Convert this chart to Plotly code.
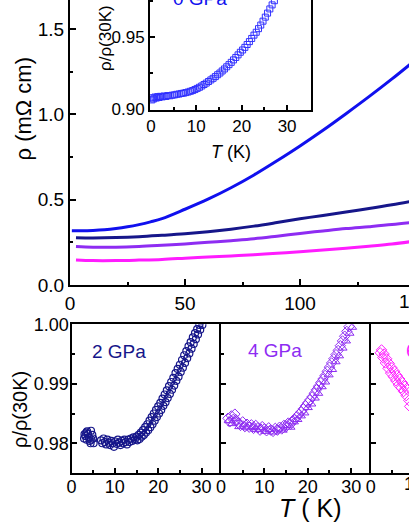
import plotly.graph_objects as go

W, H = 409, 529
FONT = "Liberation Sans, Arial, sans-serif"

# ---------------- main panel: rho(T) ----------------
T_0GPa = [0.8, 5, 10, 15, 20, 25, 30, 35, 40, 50, 60, 70, 80, 90, 100, 110, 120, 130, 140, 148]
rho_0GPa = [0.318, 0.318, 0.320, 0.324, 0.331, 0.341, 0.354, 0.370, 0.389, 0.444, 0.503, 0.570,
            0.645, 0.728, 0.815, 0.907, 1.004, 1.104, 1.208, 1.295]
T_hi = [2.6, 10, 20, 30, 40, 50, 60, 70, 80, 90, 100, 110, 120, 130, 140, 148]
rho_2GPa = [0.277, 0.276, 0.278, 0.283, 0.291, 0.300, 0.312, 0.327, 0.345, 0.366, 0.388, 0.408,
            0.428, 0.448, 0.470, 0.490]
rho_4GPa = [0.226, 0.222, 0.222, 0.226, 0.233, 0.241, 0.250, 0.260, 0.271, 0.286, 0.302, 0.317,
            0.331, 0.342, 0.354, 0.366]
rho_6GPa = [0.147, 0.143, 0.143, 0.146, 0.150, 0.157, 0.164, 0.170, 0.178, 0.186, 0.195, 0.205,
            0.215, 0.227, 0.240, 0.254]

# ---------------- inset: 0 GPa normalised ----------------
T_in = [0.2, 0.4, 0.6, 0.9, 1.2, 1.5, 1.8, 2.1, 2.5, 2.9, 3.3, 3.7, 4.2, 4.7, 5.2, 5.7, 6.2, 6.7,
        7.2, 7.7, 8.2, 8.7, 9.2, 9.7, 10.2, 10.7, 11.2, 11.7, 12.2, 12.7, 13.2, 13.7, 14.2, 14.7,
        15.2, 15.7, 16.2, 16.7, 17.2, 17.7, 18.2, 18.7, 19.2, 19.7, 20.2, 20.7, 21.2, 21.7, 22.2,
        22.7, 23.2, 23.7, 24.2, 24.7, 25.2, 25.7, 26.2, 26.7, 27.2, 27.7]
r_in = [0.9065, 0.9080, 0.9072, 0.9085, 0.9078, 0.9088, 0.9082, 0.9090, 0.9086, 0.9092, 0.9089,
        0.9095, 0.9094, 0.9098, 0.9100, 0.9104, 0.9106, 0.9110, 0.9112, 0.9116, 0.9120, 0.9125,
        0.9130, 0.9137, 0.9145, 0.9153, 0.9162, 0.9172, 0.9182, 0.9193, 0.9204, 0.9215, 0.9227,
        0.9240, 0.9252, 0.9266, 0.9280, 0.9295, 0.9310, 0.9326, 0.9343, 0.9360, 0.9378, 0.9396,
        0.9412, 0.9430, 0.9450, 0.9470, 0.9492, 0.9515, 0.9535, 0.9560, 0.9585, 0.9612, 0.9640,
        0.9668, 0.9697, 0.9725, 0.9754, 0.9784]

# ---------------- 2 GPa panel (circles) ----------------
T_2a = [2.9, 3.0, 3.2, 3.4, 3.5, 3.6, 3.8, 4.0, 4.2, 4.4, 4.5, 4.6, 4.8, 5.0, 5.1,
        6.8, 7.1, 7.4, 7.7, 8.0, 8.3, 8.6, 8.9, 9.2, 9.5, 9.8, 10.1, 10.4, 10.7, 11.0, 11.3,
        11.6, 11.9, 12.2, 12.5, 12.8, 13.1, 13.4, 13.7, 14.0, 14.3, 14.6,
        15.0, 15.5, 16.0, 16.5, 17.0, 17.5, 18.0, 18.5, 19.0, 19.5, 20.0, 20.5, 21.0, 21.5,
        22.0, 22.5, 23.0, 23.5, 24.0, 24.5, 25.0, 25.5, 26.0, 26.5, 27.0, 27.5, 28.0, 28.5,
        29.0, 29.5, 30.0]
r_2a = [0.9808, 0.9815, 0.9812, 0.9818, 0.9806, 0.9820, 0.9816, 0.9810, 0.9804, 0.9800, 0.9821,
        0.9806, 0.9814, 0.9808, 0.9800,
        0.9805, 0.9800, 0.9808, 0.9802, 0.9798, 0.9806, 0.9801, 0.9797, 0.9804, 0.9800, 0.9794,
        0.9803, 0.9799, 0.9806, 0.9801, 0.9797, 0.9804, 0.9800, 0.9806, 0.9802, 0.9798, 0.9806,
        0.9802, 0.9808, 0.9804, 0.9810, 0.9806,
        0.9811, 0.9814, 0.9818, 0.9822, 0.9827, 0.9832, 0.9838, 0.9844, 0.9850, 0.9856, 0.9862,
        0.9868, 0.9875, 0.9882, 0.9889, 0.9896, 0.9903, 0.9910, 0.9918, 0.9925, 0.9932, 0.9940,
        0.9948, 0.9955, 0.9963, 0.9970, 0.9978, 0.9985, 0.9992, 0.9999, 1.0006]
T_2b = [15.2, 15.7, 16.2, 16.7, 17.2, 17.7, 18.2, 18.7, 19.2, 19.7, 20.2, 20.7, 21.2, 21.7,
        22.2, 22.7, 23.2, 23.7, 24.2, 24.7, 25.2, 25.7, 26.2, 26.7, 27.2, 27.7, 28.2, 28.7,
        29.2, 29.7, 30.2]
r_2b = [0.9805, 0.9807, 0.9811, 0.9814, 0.9818, 0.9822, 0.9827, 0.9832, 0.9838, 0.9844, 0.9850,
        0.9856, 0.9863, 0.9869, 0.9876, 0.9883, 0.9890, 0.9897, 0.9905, 0.9912, 0.9920, 0.9927,
        0.9935, 0.9943, 0.9951, 0.9959, 0.9967, 0.9975, 0.9983, 0.9991, 0.9999]

# ---------------- 4 GPa panel (diamonds + triangles) ----------------
T_4d = [1.6, 2.0, 2.4, 2.8, 3.2, 3.6, 4.0, 4.5, 5.0, 5.5, 6.0, 6.5, 7.0, 7.5, 8.0, 8.5, 9.0, 9.5,
        10.0, 10.5, 11.0, 11.5, 12.0, 12.5, 13.0, 13.5, 14.0, 14.5, 15.0, 15.5, 16.0, 16.5, 17.0,
        17.5, 18.0, 18.5, 19.0, 19.5, 20.0, 20.5, 21.0, 21.5, 22.0, 22.5, 23.0, 23.5, 24.0, 24.5,
        25.0, 25.5, 26.0, 26.5, 27.0, 27.5, 28.0, 28.5, 29.0, 29.5]
r_4d = [0.9842, 0.9836, 0.9846, 0.9840, 0.9849, 0.9838, 0.9834, 0.9830, 0.9836, 0.9828, 0.9832,
        0.9827, 0.9831, 0.9825, 0.9830, 0.9826, 0.9822, 0.9828, 0.9824, 0.9821, 0.9826, 0.9822,
        0.9820, 0.9825, 0.9822, 0.9827, 0.9824, 0.9830, 0.9828, 0.9834, 0.9832, 0.9838, 0.9840,
        0.9845, 0.9849, 0.9853, 0.9858, 0.9863, 0.9868, 0.9873, 0.9878, 0.9884, 0.9890, 0.9896,
        0.9902, 0.9908, 0.9914, 0.9921, 0.9928, 0.9935, 0.9942, 0.9949, 0.9956, 0.9964, 0.9972,
        0.9980, 0.9988, 0.9996]
T_4t = [1.8, 2.6, 3.4, 4.2, 5.2, 6.2, 7.2, 8.2, 9.2, 10.2, 11.2, 12.2, 13.2, 14.2, 15.2, 16.0,
        16.8, 17.6, 18.4, 19.2, 20.0, 20.8, 21.6, 22.4, 23.2, 24.0, 24.8, 25.6, 26.4, 27.2, 28.0,
        28.8, 29.6, 30.2]
r_4t = [0.9838, 0.9833, 0.9842, 0.9828, 0.9831, 0.9826, 0.9828, 0.9823, 0.9826, 0.9820, 0.9823,
        0.9819, 0.9824, 0.9822, 0.9830, 0.9827, 0.9836, 0.9840, 0.9846, 0.9851, 0.9860, 0.9866,
        0.9876, 0.9884, 0.9895, 0.9903, 0.9915, 0.9924, 0.9937, 0.9947, 0.9960, 0.9972, 0.9985,
        0.9995]

# ---------------- 6 GPa panel (diamonds) ----------------
T_6 = [2.2, 2.5, 2.8, 3.1, 3.4, 3.7, 4.0, 4.3, 4.6, 4.9, 5.2, 5.5, 5.8, 6.1, 6.4, 6.7, 7.0, 7.3,
       7.6, 7.9, 8.2, 8.5, 8.8, 9.0]
r_6 = [0.9952, 0.9957, 0.9944, 0.9950, 0.9935, 0.9942, 0.9926, 0.9934, 0.9918, 0.9927, 0.9912,
       0.9921, 0.9905, 0.9914, 0.9898, 0.9908, 0.9893, 0.9902, 0.9887, 0.9896, 0.9880, 0.9890,
       0.9872, 0.9862]

C_BLUE = "#1010ee"
C_NAVY = "#16168a"
C_PURP = "#8e2cf2"
C_MAG = "#ff1cff"


def px(x):
    return x / W


def py(y):
    return 1 - y / H


fig = go.Figure()

# main curves
for T, r, c in [(T_0GPa, rho_0GPa, C_BLUE), (T_hi, rho_2GPa, C_NAVY),
                (T_hi, rho_4GPa, C_PURP), (T_hi, rho_6GPa, C_MAG)]:
    fig.add_trace(go.Scatter(x=T, y=r, mode="lines", line=dict(color=c, width=3, shape="spline"),
                             xaxis="x", yaxis="y"))

# inset
fig.add_trace(go.Scatter(x=T_in, y=r_in, mode="markers", xaxis="x2", yaxis="y2",
                         marker=dict(symbol="square-open", size=6, color="#3030ff",
                                     line=dict(width=1, color="#3030ff"))))

# bottom panels
fig.add_trace(go.Scatter(x=T_2a, y=r_2a, mode="markers", xaxis="x3", yaxis="y3",
                         marker=dict(symbol="circle-open", size=7, color=C_NAVY, line=dict(width=1.2))))
fig.add_trace(go.Scatter(x=T_2b, y=r_2b, mode="markers", xaxis="x3", yaxis="y3",
                         marker=dict(symbol="circle-open", size=7, color=C_NAVY, line=dict(width=1.2))))
fig.add_trace(go.Scatter(x=T_4d, y=r_4d, mode="markers", xaxis="x4", yaxis="y4",
                         marker=dict(symbol="diamond-open", size=8, color=C_PURP, line=dict(width=1))))
fig.add_trace(go.Scatter(x=T_4t, y=r_4t, mode="markers", xaxis="x4", yaxis="y4",
                         marker=dict(symbol="triangle-up-open", size=8, color=C_PURP, line=dict(width=1))))
fig.add_trace(go.Scatter(x=T_6, y=r_6, mode="markers", xaxis="x5", yaxis="y5",
                         marker=dict(symbol="diamond-open", size=8, color=C_MAG, line=dict(width=1))))

common = dict(showline=True, linecolor="black", linewidth=2, ticks="inside", tickcolor="black",
              tickwidth=2, showgrid=False, zeroline=False, automargin=False,
              tickfont=dict(family=FONT, size=18, color="black"))


def ax(**kw):
    d = dict(common)
    d.update(kw)
    return d


bot_lo, bot_hi = py(473), py(324.3)
fig.update_layout(
    width=W, height=H, margin=dict(l=0, r=0, t=0, b=0, pad=0, autoexpand=False),
    paper_bgcolor="white", plot_bgcolor="white", showlegend=False, autosize=False,
    font=dict(family=FONT, color="black"),
    xaxis=ax(domain=[px(70), 1], range=[0, (W - 70) / 2.3], anchor="y", dtick=50, ticklen=6,
             tickfont=dict(family=FONT, size=19, color="black"),
             minor=dict(dtick=25, ticklen=3, ticks="inside", tickwidth=2, tickcolor="black")),
    yaxis=ax(domain=[py(285), 1], range=[0, 285 / 170.6], anchor="x", dtick=0.5, tickformat=".1f",
             ticklen=6, tickfont=dict(family=FONT, size=19, color="black"),
             minor=dict(dtick=0.25, ticklen=3, ticks="inside", tickwidth=2, tickcolor="black")),
    xaxis2=ax(domain=[px(150), px(310.7)], range=[-0.2, 35.2], anchor="y2", dtick=10, ticklen=5,
              tickfont=dict(family=FONT, size=17, color="black"),
              minor=dict(dtick=5, ticklen=3, ticks="inside", tickwidth=1.5, tickcolor="black")),
    yaxis2=ax(domain=[py(110), 1], range=[0.8995, 0.9759], anchor="x2", dtick=0.05, tickformat=".2f",
              mirror=True, ticklen=5, tickfont=dict(family=FONT, size=17, color="black"),
              minor=dict(dtick=0.025, ticklen=3, ticks="inside", tickwidth=1.5, tickcolor="black")),
    xaxis3=ax(domain=[px(71.5), px(221)], range=[0, 34.5], anchor="y3", mirror=True, dtick=10, ticklen=5,
              ticklabelstandoff=-4,
              minor=dict(dtick=5, ticklen=3, ticks="inside", tickwidth=1.5, tickcolor="black")),
    yaxis3=ax(domain=[bot_lo, bot_hi], range=[0.975, 1.0], anchor="x3",
              tickvals=[0.98, 0.99, 1.00], tickformat=".2f", ticklen=5, ticklabelstandoff=-3,
              minor=dict(dtick=0.005, ticklen=3, ticks="inside", tickwidth=1.5, tickcolor="black")),
    xaxis4=ax(domain=[px(221), px(370.7)], range=[0, 34.5], anchor="y4", mirror=True, dtick=10, ticklen=5,
              ticklabelstandoff=-4,
              minor=dict(dtick=5, ticklen=3, ticks="inside", tickwidth=1.5, tickcolor="black")),
    yaxis4=ax(domain=[bot_lo, bot_hi], range=[0.975, 1.0], anchor="x4",
              tickvals=[0.98, 0.99, 1.00], showticklabels=False, ticklen=5,
              minor=dict(dtick=0.005, ticklen=3, ticks="inside", tickwidth=1.5, tickcolor="black")),
    xaxis5=ax(domain=[px(370.7), 1], range=[0, (W - 370.7) / 4.33], anchor="y5", mirror=True, dtick=10,
              ticklen=5, ticklabelstandoff=-4,
              minor=dict(dtick=5, ticklen=3, ticks="inside", tickwidth=1.5, tickcolor="black")),
    yaxis5=ax(domain=[bot_lo, bot_hi], range=[0.975, 1.0], anchor="x5",
              tickvals=[0.98, 0.99, 1.00], showticklabels=False, ticklen=5,
              minor=dict(dtick=0.005, ticklen=3, ticks="inside", tickwidth=1.5, tickcolor="black")),
)


def note(text, x, y, size, color="black", angle=0, xanchor="center"):
    fig.add_annotation(text=text, x=px(x), y=py(y), xref="paper", yref="paper", showarrow=False,
                       xanchor=xanchor, yanchor="middle", textangle=angle,
                       font=dict(family=FONT, size=size, color=color))


note("ρ (mΩ cm)", 23, 108.5, 22, angle=-90)
note("ρ/ρ(30K)", 105, 38, 17, angle=-90)
note("<i>T</i> (K)", 231, 152, 18)
note("0 GPa", 200, -1, 19, color=C_BLUE)
note("2 GPa", 119, 351, 19, color=C_NAVY)
note("4 GPa", 275, 350, 19, color=C_PURP)
note("6 GPa", 404, 350, 19, color=C_MAG, xanchor="left")
note("ρ/ρ(30K)", 20, 410, 20, angle=-90)
note("<i>T</i> ( K)", 310, 508, 25)
# tick labels of the cropped-off part of the figure
note("150", 415, 301, 19)
note("10", 414, 484, 18)

fig.write_html("out.html", config={"displayModeBar": False},
               post_script="document.body.style.margin='0';document.body.style.overflow='hidden';")
